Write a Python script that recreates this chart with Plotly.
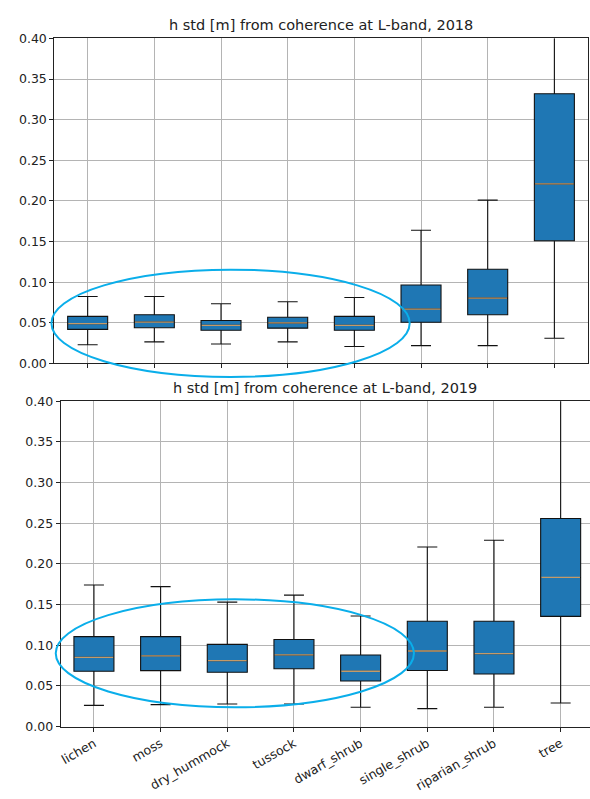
import plotly.graph_objects as go

W, H = 590, 799

categories = ["lichen", "moss", "dry_hummock", "tussock", "dwarf_shrub",
              "single_shrub", "riparian_shrub", "tree"]
positions = [1, 2, 3, 4, 5, 6, 7, 8]

# 2018 box statistics
low_2018 = [0.023, 0.0266, 0.024, 0.0266, 0.021, 0.022, 0.022, 0.031]
q1_2018 = [0.042, 0.044, 0.041, 0.0435, 0.041, 0.0507, 0.060, 0.151]
med_2018 = [0.049, 0.051, 0.047, 0.050, 0.047, 0.067, 0.0805, 0.221]
q3_2018 = [0.058, 0.060, 0.053, 0.057, 0.058, 0.0966, 0.116, 0.332]
high_2018 = [0.0825, 0.0825, 0.0736, 0.076, 0.0813, 0.164, 0.201, 0.50]

# 2019 box statistics
low_2019 = [0.026, 0.027, 0.0277, 0.0277, 0.0237, 0.022, 0.0237, 0.029]
q1_2019 = [0.068, 0.0687, 0.0667, 0.071, 0.056, 0.069, 0.0647, 0.1355]
med_2019 = [0.085, 0.087, 0.081, 0.088, 0.068, 0.0929, 0.0896, 0.1833]
q3_2019 = [0.1106, 0.1106, 0.101, 0.107, 0.088, 0.1294, 0.1294, 0.2557]
high_2019 = [0.174, 0.172, 0.153, 0.1616, 0.136, 0.2207, 0.229, 0.43]

titles = ["h std [m] from coherence at L-band, 2018",
          "h std [m] from coherence at L-band, 2019"]
yticks = [0.0, 0.05, 0.10, 0.15, 0.20, 0.25, 0.30, 0.35, 0.40]

# highlight ellipses (data units of each panel): x0, x1, y0, y1
ellipse_2018 = [0.457, 5.83, -0.0165, 0.1155]
ellipse_2019 = [0.427, 5.80, 0.0237, 0.1564]

BOX_W = 0.6
SPACING = 66.9  # px per category

# panel geometry in pixels
top_px = dict(x0=52.5, x1=587.7, y0=31.0, y1=362.3)
bot_px = dict(x0=58.8, x1=590.0, y0=400.7, y1=732.3)
top_range = [0.5, 8.5]
bot_range = [0.5, 0.5 + (bot_px["x1"] - bot_px["x0"]) / SPACING]
y_range = [0.0, 0.40]

def dom(px):
    return ([px["x0"] / W, px["x1"] / W],
            [(H - px["y1"]) / H, (H - px["y0"]) / H])

tx, ty = dom(top_px)
bx, by = dom(bot_px)

fig = go.Figure()

def add_panel(q1, med, q3, lo, hi, xa, ya):
    fig.add_trace(go.Box(
        x=positions, q1=q1, median=med, q3=q3, lowerfence=lo, upperfence=hi,
        width=BOX_W, whiskerwidth=0.5, fillcolor="#1f77b4",
        line=dict(color="#111111", width=1.1), boxpoints=False,
        xaxis=xa, yaxis=ya, showlegend=False, hoverinfo="skip"))
    mx, my = [], []
    for p, m in zip(positions, med):
        mx += [p - BOX_W / 2 + 0.01, p + BOX_W / 2 - 0.01, None]
        my += [m, m, None]
    fig.add_trace(go.Scatter(
        x=mx, y=my, mode="lines", line=dict(color="#c49a68", width=1.3),
        xaxis=xa, yaxis=ya, showlegend=False, hoverinfo="skip"))

add_panel(q1_2018, med_2018, q3_2018, low_2018, high_2018, "x", "y")
add_panel(q1_2019, med_2019, q3_2019, low_2019, high_2019, "x2", "y2")

axis_common = dict(showgrid=True, gridcolor="#b4b4b4", gridwidth=0.8,
                   showline=True, linecolor="#222222", linewidth=1,
                   ticks="outside", ticklen=4, tickcolor="#222222",
                   tickfont=dict(family="DejaVu Sans", size=12.5, color="#222222"),
                   zeroline=False)

fig.update_layout(
    width=W, height=H, margin=dict(l=0, r=0, t=0, b=0),
    paper_bgcolor="white", plot_bgcolor="white",
    xaxis=dict(domain=tx, range=top_range, tickvals=positions,
               showticklabels=False, mirror=True, anchor="y", **axis_common),
    yaxis=dict(domain=ty, range=y_range, tickvals=yticks, tickformat=".2f",
               mirror=True, anchor="x", **axis_common),
    xaxis2=dict(domain=bx, range=bot_range, tickvals=positions,
                ticktext=categories, tickangle=-30, mirror=True, anchor="y2",
                **axis_common),
    yaxis2=dict(domain=by, range=y_range, tickvals=yticks, tickformat=".2f",
                mirror=False, anchor="x2", **axis_common),
)

def to_paper(xv, yv, xdom, ydom, xr):
    px = xdom[0] + (xv - xr[0]) / (xr[1] - xr[0]) * (xdom[1] - xdom[0])
    py = ydom[0] + (yv - y_range[0]) / (y_range[1] - y_range[0]) * (ydom[1] - ydom[0])
    return px, py

for e, xd, yd, xr in [(ellipse_2018, tx, ty, top_range),
                      (ellipse_2019, bx, by, bot_range)]:
    x0, y0 = to_paper(e[0], e[2], xd, yd, xr)
    x1, y1 = to_paper(e[1], e[3], xd, yd, xr)
    fig.add_shape(type="circle", xref="paper", yref="paper",
                  x0=x0, x1=x1, y0=y0, y1=y1,
                  line=dict(color="#0aaeea", width=2), layer="above")

for title, xd, yd, xr in [(titles[0], tx, ty, top_range),
                          (titles[1], bx, by, bot_range)]:
    fig.add_annotation(text=title, xref="paper", yref="paper",
                       x=(xd[0] + xd[1]) / 2, y=yd[1] + 13.5 / H,
                       xanchor="center", yanchor="middle", showarrow=False,
                       font=dict(family="DejaVu Sans", size=14.5, color="#222222"))

fig.write_html("out.html")
